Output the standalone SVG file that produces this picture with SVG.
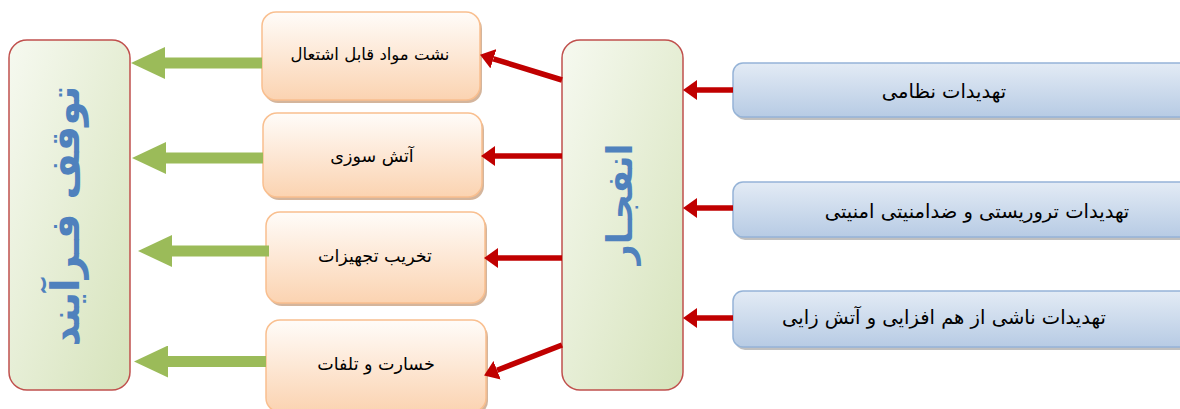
<svg xmlns="http://www.w3.org/2000/svg" width="1180" height="409" viewBox="0 0 1180 409">
<defs>
<linearGradient id="gGreen" x1="0" y1="0" x2="1" y2="1"><stop offset="0" stop-color="#f6f9f0"/><stop offset="1" stop-color="#d6e3bb"/></linearGradient>
<linearGradient id="gOrange" x1="0" y1="0" x2="0" y2="1"><stop offset="0" stop-color="#fffcf9"/><stop offset="1" stop-color="#fbd3b1"/></linearGradient>
<linearGradient id="gBlue" x1="0" y1="0" x2="0" y2="1"><stop offset="0" stop-color="#e3ebf5"/><stop offset="1" stop-color="#b7cbe4"/></linearGradient>
<marker id="mRed" markerUnits="userSpaceOnUse" viewBox="0 0 14 20" markerWidth="14" markerHeight="20" refX="0" refY="10" orient="auto"><path d="M0,0 L14,10 L0,20 z" fill="#c00000"/></marker>
<marker id="mGreen" markerUnits="userSpaceOnUse" viewBox="0 0 34 32" markerWidth="34" markerHeight="32" refX="0" refY="16" orient="auto"><path d="M0,0 L34,16 L0,32 z" fill="#9bbb59"/></marker>
</defs>
<style>
.big{fill:url(#gGreen);stroke:#c0504d;stroke-width:1.5}
.org{fill:url(#gOrange);stroke:#f9bf8f;stroke-width:1.5}
.blu{fill:url(#gBlue);stroke:#95b3d7;stroke-width:1.5}
.sh{fill:#8c8c8c;opacity:0.55}
.shO{fill:#c9a283;opacity:0.8}
.t{font-family:"DejaVu Sans",sans-serif;font-size:17.5px;fill:#000;text-anchor:middle;dominant-baseline:middle}
.tb{font-size:19.5px}
.ts{font-size:16.5px}
.v{font-family:"DejaVu Sans",sans-serif;font-weight:bold;fill:#4f81bd;text-anchor:middle;dominant-baseline:middle}
.red{stroke:#c00000;stroke-width:5.5;fill:none;marker-end:url(#mRed)}
.grn{stroke:#9bbb59;stroke-width:11;fill:none;marker-end:url(#mGreen)}
</style>

<g id="node-stop">
<rect class="big" x="9" y="40" width="121" height="350" rx="18"/>
<text class="v" font-size="40" transform="translate(68,216) rotate(-90)">توقف فـرآیند</text>
</g>

<g id="node-explosion">
<rect class="big" x="562" y="40" width="121" height="350" rx="18"/>
<text class="v" font-size="35" transform="translate(622,204) rotate(-90)">انفجـار</text>
</g>

<g id="node-leak">
<rect class="shO" x="264" y="15" width="218" height="88" rx="14"/>
<rect class="org" x="262" y="12" width="218" height="88" rx="14"/>
<text class="t ts" x="370" y="55">نشت مواد قابل اشتعال</text>
</g>
<g id="node-fire">
<rect class="shO" x="265" y="116" width="219" height="84" rx="14"/>
<rect class="org" x="263" y="113" width="219" height="84" rx="14"/>
<text class="t" x="372" y="157">آتش سوزی</text>
</g>
<g id="node-equip">
<rect class="shO" x="268" y="215" width="219" height="91" rx="14"/>
<rect class="org" x="266" y="212" width="219" height="91" rx="14"/>
<text class="t" x="375" y="257">تخریب تجهیزات</text>
</g>
<g id="node-loss">
<rect class="shO" x="268" y="323" width="220" height="92" rx="14"/>
<rect class="org" x="266" y="320" width="220" height="92" rx="14"/>
<text class="t" x="376" y="365">خسارت و تلفات</text>
</g>

<g id="node-military">
<rect class="sh" x="735" y="66" width="460" height="54" rx="10"/>
<rect class="blu" x="733" y="63" width="460" height="54" rx="10"/>
<text class="t tb" x="944" y="92">تهدیدات نظامی</text>
</g>
<g id="node-terror">
<rect class="sh" x="735" y="185" width="460" height="55" rx="10"/>
<rect class="blu" x="733" y="182" width="460" height="55" rx="10"/>
<text class="t tb" x="977" y="212">تهدیدات تروریستی و ضدامنیتی امنیتی</text>
</g>
<g id="node-synergy">
<rect class="sh" x="735" y="294" width="460" height="56" rx="10"/>
<rect class="blu" x="733" y="291" width="460" height="56" rx="10"/>
<text class="t tb" x="944" y="318">تهدیدات ناشی از هم افزایی و آتش زایی</text>
</g>

<g id="connectors">
<line class="red" x1="733" y1="90" x2="697" y2="90"/>
<line class="red" x1="733" y1="208" x2="697" y2="208"/>
<line class="red" x1="733" y1="318" x2="697" y2="318"/>
<line class="red" x1="562" y1="80" x2="493.4" y2="58.8"/>
<line class="red" x1="562" y1="156" x2="495" y2="156"/>
<line class="red" x1="562" y1="258" x2="498" y2="258"/>
<line class="red" x1="562" y1="345" x2="497.1" y2="370.3"/>
<line class="grn" x1="262" y1="63" x2="165" y2="63"/>
<line class="grn" x1="263" y1="158" x2="166" y2="158"/>
<line class="grn" x1="269" y1="251" x2="172" y2="251"/>
<line class="grn" x1="266" y1="361.5" x2="168" y2="361.5"/>
</g>
</svg>
